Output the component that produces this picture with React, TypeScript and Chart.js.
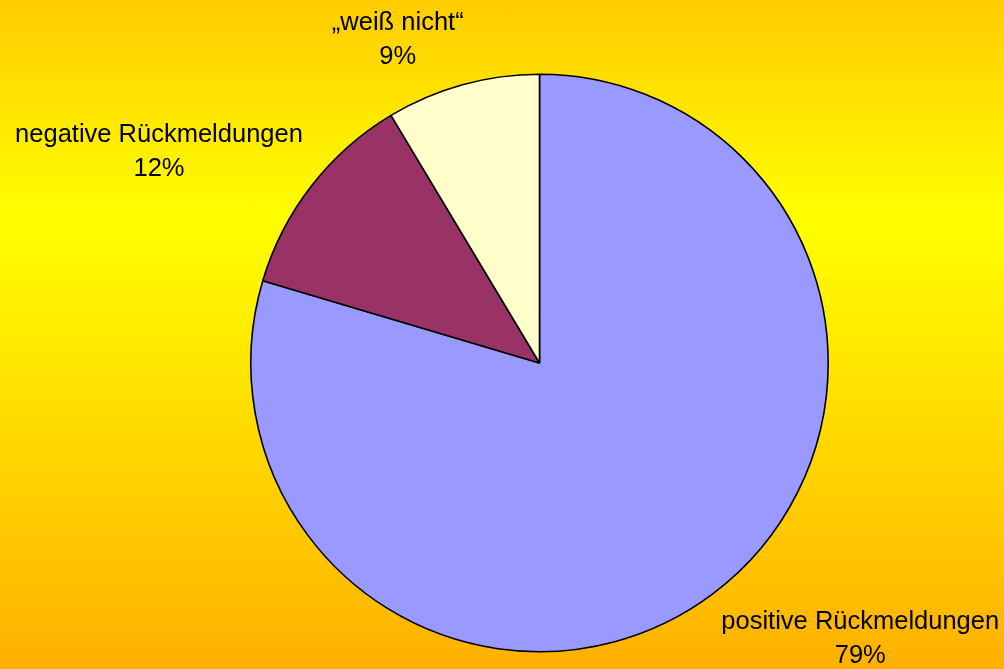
import React, { useEffect, useRef } from "react";
import { Chart, registerables } from "chart.js";

Chart.register(...registerables);

const categories = ["positive Rückmeldungen", "negative Rückmeldungen", "„weiß nicht“"];
const shares = [79.6, 11.8, 8.6];
const percentLabels = ["79%", "12%", "9%"];
const sliceColors = ["#9999FF", "#993366", "#FFFFCC"];

// label anchor offsets relative to pie centre, in units of the pie radius
const labelOffsets = [
  [1.111, 0.92],
  [-1.318, -0.765],
  [-0.491, -1.154],
];

const labelPlugin = {
  id: "pieLabels",
  afterDraw(chart: any) {
    const meta = chart.getDatasetMeta(0);
    const ctx = chart.ctx;
    ctx.save();
    ctx.font = '25.5px "Liberation Sans", Arial, sans-serif';
    ctx.fillStyle = "#000";
    ctx.textAlign = "center";
    ctx.textBaseline = "alphabetic";
    meta.data.forEach((arc: any, i: number) => {
      const r = arc.outerRadius;
      const x = arc.x + labelOffsets[i][0] * r;
      const y = arc.y + labelOffsets[i][1] * r;
      ctx.fillText(chart.data.labels[i], x, y);
      ctx.fillText(percentLabels[i], x, y + 34);
    });
    ctx.restore();
  },
};

export default function App() {
  const ref = useRef<HTMLCanvasElement>(null);
  useEffect(() => {
    document.body.style.margin = "0";
    const chart = new Chart(ref.current!, {
      type: "pie",
      data: {
        labels: categories,
        datasets: [
          {
            data: shares,
            backgroundColor: sliceColors,
            borderColor: "#000000",
            borderWidth: 1.6,
            hoverOffset: 0,
          },
        ],
      },
      options: {
        animation: false,
        responsive: false,
        events: [],
        layout: { padding: { top: 73, bottom: 16, left: 250, right: 175 } },
        plugins: { legend: { display: false }, tooltip: { enabled: false } },
      },
      plugins: [labelPlugin],
    });
    return () => chart.destroy();
  }, []);
  return (
    <div
      style={{
        position: "absolute",
        left: 0,
        top: 0,
        width: 1004,
        height: 669,
        background: "linear-gradient(to bottom, #FFCC00 0%, #FFFF00 33%, #FFB000 100%)",
      }}
    >
      <canvas ref={ref} width={1004} height={669} style={{ display: "block" }} />
    </div>
  );
}
